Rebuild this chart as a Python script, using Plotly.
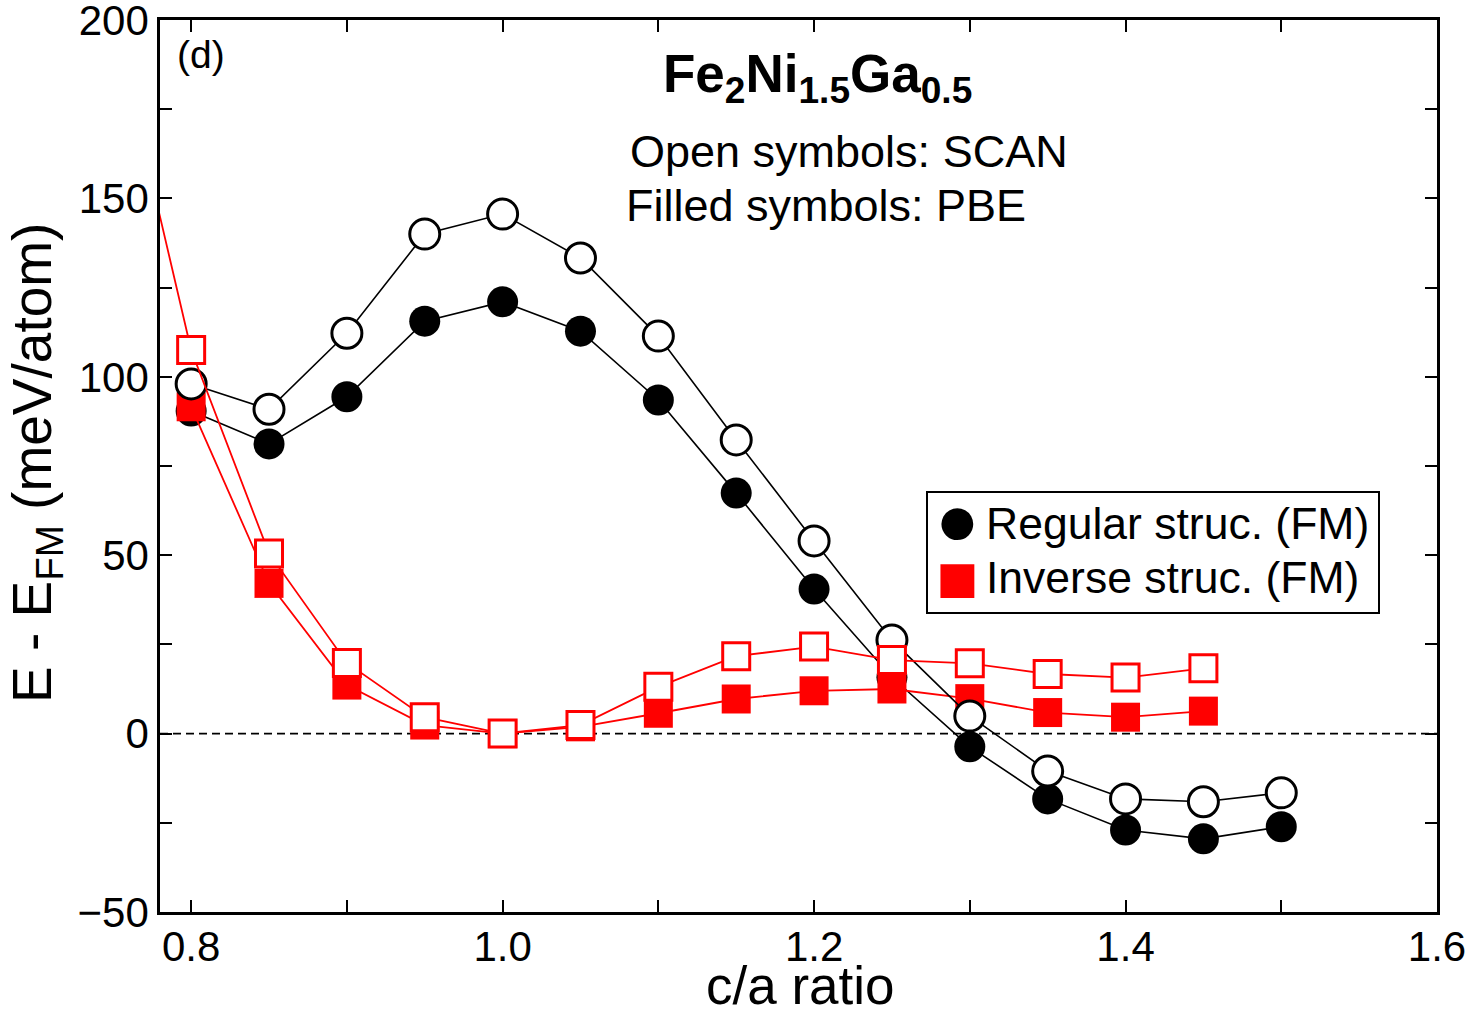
import plotly.graph_objects as go

# ---------------- data ----------------
ca_regular = [0.80, 0.85, 0.90, 0.95, 1.00, 1.05, 1.10, 1.15, 1.20, 1.25, 1.30, 1.35, 1.40, 1.45, 1.50]
regular_pbe = [90.4, 81.2, 94.4, 115.6, 121.0, 112.8, 93.5, 67.4, 40.5, 15.8, -3.7, -18.3, -27.0, -29.5, -26.1]
regular_scan = [98.0, 90.9, 112.2, 140.0, 145.6, 133.3, 111.4, 82.3, 54.0, 26.2, 4.9, -10.5, -18.3, -19.1, -16.6]

ca_inverse_pbe = [0.80, 0.85, 0.90, 0.95, 1.00, 1.05, 1.10, 1.15, 1.20, 1.25, 1.30, 1.35, 1.40, 1.45]
inverse_pbe = [91.6, 42.1, 13.6, 2.4, 0.0, 1.9, 5.7, 9.7, 12.0, 12.5, 9.8, 5.9, 4.6, 6.3]

ca_inverse_scan = [0.75, 0.80, 0.85, 0.90, 0.95, 1.00, 1.05, 1.10, 1.15, 1.20, 1.25, 1.30, 1.35, 1.40, 1.45]
inverse_scan = [201.0, 107.5, 50.5, 19.8, 4.6, 0.0, 2.4, 13.1, 21.7, 24.4, 20.6, 19.7, 16.7, 15.7, 18.3]

x_tick_vals = [0.8, 0.9, 1.0, 1.1, 1.2, 1.3, 1.4, 1.5, 1.6]
x_tick_text = ["0.8", "", "1.0", "", "1.2", "", "1.4", "", "1.6"]
y_tick_vals = [-50, -25, 0, 25, 50, 75, 100, 125, 150, 175, 200]
y_tick_text = ["\u221250", "", "0", "", "50", "", "100", "", "150", "", "200"]

x_range = [0.78, 1.6]
y_range = [-50, 200]

x_title = "c/a ratio"
y_title = "E - E<sub>FM</sub> (meV/atom)"
legend_labels = ["Regular struc. (FM)", "Inverse struc. (FM)"]

FONT = "Liberation Sans, Arial, Helvetica, sans-serif"
RED = "#ff0000"

# plot-area geometry in pixels (used only to place text annotations)
PX_L, PX_R, PX_T, PX_B = 160, 1437, 20, 912


def px(xp):
    return (xp - PX_L) / (PX_R - PX_L)


def py(yp):
    return (PX_B - yp) / (PX_B - PX_T)


fig = go.Figure()

# PBE regular (filled black circles)
fig.add_trace(go.Scatter(
    x=ca_regular, y=regular_pbe, mode="lines+markers", name="Regular struc. (FM), PBE",
    line=dict(color="black", width=1.6),
    marker=dict(symbol="circle", size=31, color="black", line=dict(width=0)),
    showlegend=False))
# PBE inverse (filled red squares)
fig.add_trace(go.Scatter(
    x=ca_inverse_pbe, y=inverse_pbe, mode="lines+markers", name="Inverse struc. (FM), PBE",
    line=dict(color=RED, width=1.8),
    marker=dict(symbol="square", size=29, color=RED, line=dict(width=0)),
    showlegend=False))
# SCAN regular (open black circles)
fig.add_trace(go.Scatter(
    x=ca_regular, y=regular_scan, mode="lines+markers", name="Regular struc. (FM), SCAN",
    line=dict(color="black", width=1.6),
    marker=dict(symbol="circle", size=30, color="white", line=dict(width=3, color="black")),
    showlegend=False))
# SCAN inverse (open red squares)
fig.add_trace(go.Scatter(
    x=ca_inverse_scan, y=inverse_scan, mode="lines+markers", name="Inverse struc. (FM), SCAN",
    line=dict(color=RED, width=1.8),
    marker=dict(symbol="square", size=27, color="white", line=dict(width=3, color=RED)),
    showlegend=False))

# zero reference line
fig.add_hline(y=0, line=dict(color="black", width=1.6, dash="8px,5px"), layer="below")


def note(text, x, y, size, xanchor="left", color="black", align="left", angle=0):
    return dict(text=text, x=px(x), y=py(y), xref="paper", yref="paper",
                xanchor=xanchor, yanchor="middle", showarrow=False, align=align,
                textangle=angle, font=dict(size=size, color=color, family=FONT))


legend_symbols = ('<span style="font-size:74px">\u25CF</span><br>'
                  '<span style="font-size:70px;fill:#ff0000">\u25A0</span>')

annotations = [
    note("(d)", 175, 54, 39),
    note("<b>Fe<sub>2</sub>Ni<sub>1.5</sub>Ga<sub>0.5</sub></b>", 817, 77, 53, xanchor="center"),
    note("Open symbols: SCAN", 628, 152, 45),
    note("Filled symbols: PBE", 624, 205, 45),
    # axis titles
    note(x_title, 800, 986, 53, xanchor="center", align="center"),
    note(y_title, 36, 463, 55, xanchor="center", align="center", angle=-90),
    # legend
    note(legend_symbols, 957, 547, 44, xanchor="center", align="center"),
    note(legend_labels[0], 984, 523, 44.5),
    note(legend_labels[1], 984, 578, 44.5),
]

fig.add_shape(type="rect", xref="paper", yref="paper",
              x0=px(927), x1=px(1379), y0=py(613), y1=py(492),
              line=dict(color="black", width=2), fillcolor="white", layer="above")

axis_common = dict(
    showgrid=False, zeroline=False, showline=True, linewidth=2.5, linecolor="black",
    mirror="ticks", ticks="inside", ticklen=12, tickwidth=2, tickcolor="black",
    tickfont=dict(size=42, color="black", family=FONT), ticklabeloverflow="allow",
)

fig.update_layout(
    width=1471, height=1015,
    margin=dict(l=PX_L, r=1471 - PX_R, t=PX_T, b=1015 - PX_B),
    paper_bgcolor="white", plot_bgcolor="white",
    font=dict(family=FONT, color="black"),
    annotations=annotations,
    xaxis=dict(range=x_range, tickmode="array", tickvals=x_tick_vals, ticktext=x_tick_text,
               ticklabelstandoff=-4, automargin=False, **axis_common),
    yaxis=dict(range=y_range, tickmode="array", tickvals=y_tick_vals, ticktext=y_tick_text,
               automargin=False, **axis_common),
)

fig.write_html("out.html")
